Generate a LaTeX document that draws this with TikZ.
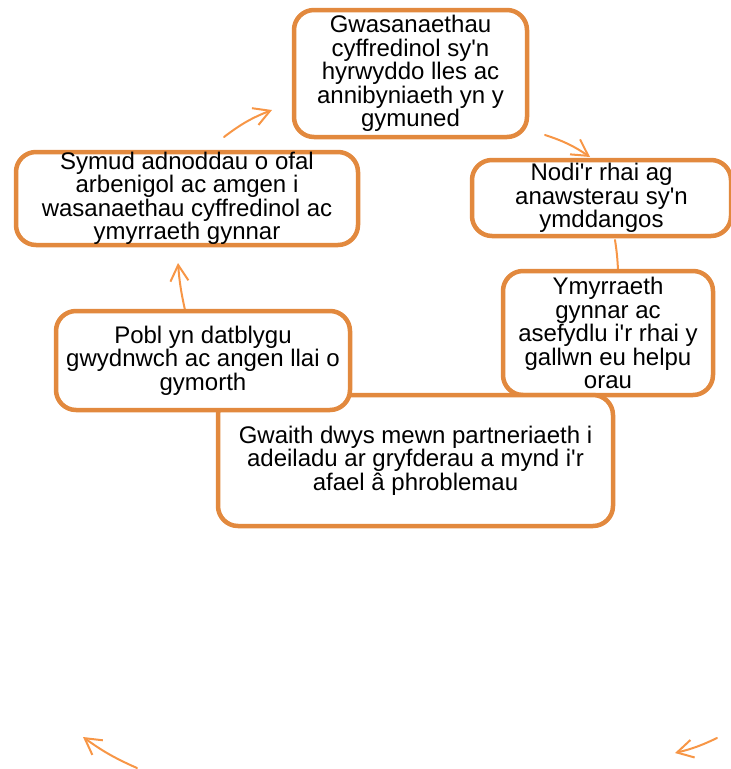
\documentclass[tikz,border=0pt]{standalone}
\usepackage{fontspec}
\setmainfont{Liberation Sans}[Ligatures=TeXOff]
\usetikzlibrary{arrows.meta}
\definecolor{boxc}{RGB}{226,137,62}
\definecolor{arrc}{RGB}{247,150,70}
\newcommand{\boxfont}{\fontsize{24}{23.5}\selectfont}
\tikzset{
  box/.style={draw=boxc, line width=4.5pt, rounded corners=20pt, fill=white, align=center, font=\boxfont, inner sep=0pt},
  cyc/.style={draw=arrc, line width=2pt, line cap=round, -{Straight Barb[length=16pt,width=18pt,line width=2pt]}},
  plainlink/.style={draw=arrc, line width=2pt, line cap=round}
}
\begin{document}
\begin{tikzpicture}[x=1pt,y=-1pt]
\useasboundingbox (0,0) rectangle (731,769);
% arrow endpoints
\coordinate (a1) at (224,137); \coordinate (a2) at (272,110);
\coordinate (b1) at (545,135); \coordinate (b2) at (590,157);
\coordinate (c1) at (185,310); \coordinate (c2) at (178,263);
\coordinate (d1) at (615,240); \coordinate (d2) at (618,270);
\coordinate (e1) at (137,768); \coordinate (e2) at (83,737);
\coordinate (f1) at (717,738); \coordinate (f2) at (675,753);
\draw[cyc] (a1) to[bend left=8] (a2);
\draw[cyc] (b1) to[bend left=8] (b2);
\draw[cyc] (c1) to[bend left=4] (c2);
\draw[plainlink] (d1) to[bend left=3] (d2);
\draw[cyc] (e1) to[bend left=6] (e2);
\draw[cyc] (f1) to[bend left=6] (f2);
% boxes
\node[box, minimum width=233pt, minimum height=127pt] (n1) at (410.5,73.5)
  {Gwasanaethau\\cyffredinol sy'n\\hyrwyddo lles ac\\annibyniaeth yn y\\gymuned};
\node[box, minimum width=342pt, minimum height=93pt] (n2) at (187,198.5)
  {Symud adnoddau o ofal\\arbenigol ac amgen i\\wasanaethau cyffredinol ac\\ymyrraeth gynnar};
\node[box, minimum width=259pt, minimum height=76pt] (n3) at (601.5,198)
  {Nodi'r rhai ag\\anawsterau sy'n\\ymddangos};
\node[box, minimum width=210pt, minimum height=124pt] (n4) at (608,333)
  {Ymyrraeth\\gynnar ac\\asefydlu i'r rhai y\\gallwn eu helpu\\orau};
\node[box, minimum width=395pt, minimum height=131pt] (n6) at (415.5,460.5)
  {Gwaith dwys mewn partneriaeth i\\adeiladu ar gryfderau a mynd i'r\\afael â phroblemau};
\node[box, minimum width=294pt, minimum height=99pt] (n5) at (203,360.5)
  {Pobl yn datblygu\\gwydnwch ac angen llai o\\gymorth};
\end{tikzpicture}
\end{document}
